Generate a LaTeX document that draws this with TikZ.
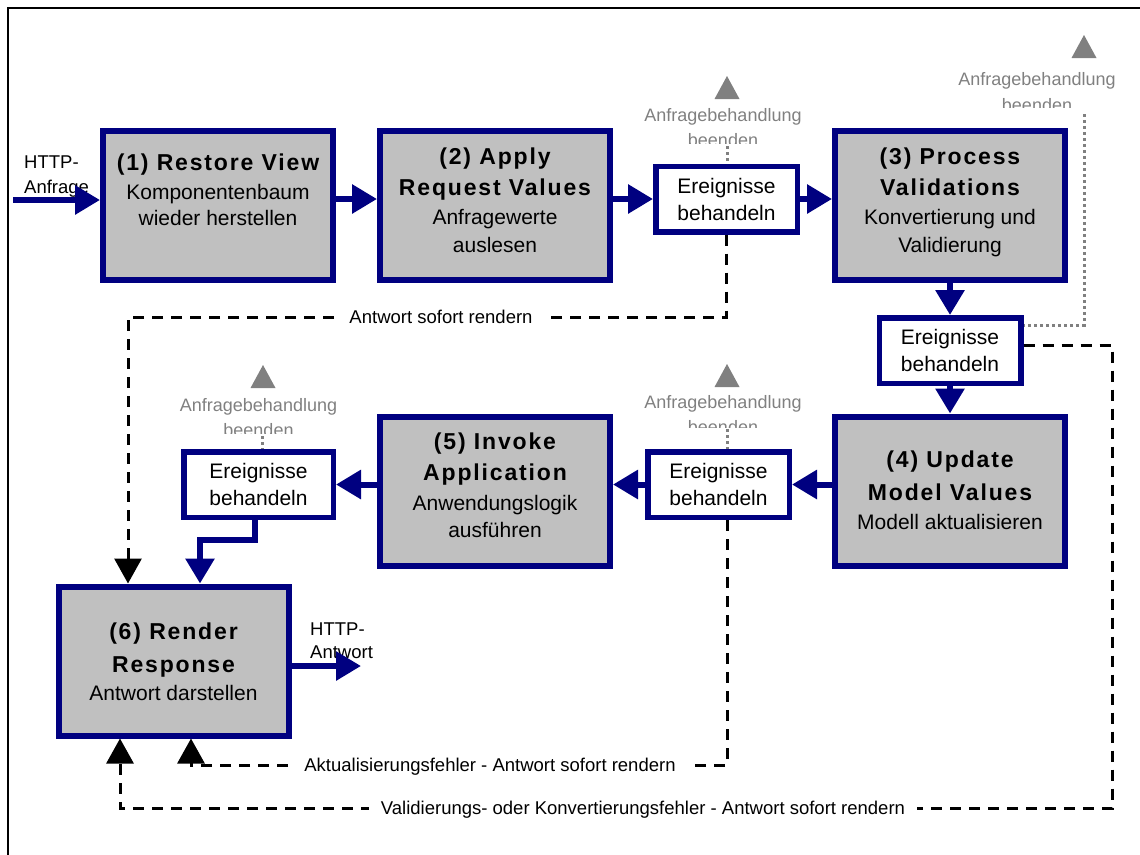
\documentclass[tikz,border=0pt]{standalone}
\usepackage{fontspec}
\setmainfont{Liberation Sans}
\newfontfamily\ttlfam[LetterSpace=8]{Liberation Sans}
\usetikzlibrary{arrows.meta,calc}
\definecolor{navy}{HTML}{000080}
\definecolor{phasegray}{HTML}{C0C0C0}
\definecolor{notegray}{HTML}{808080}
\newcommand\ttl[1]{{\ttlfam\bfseries\fontsize{23}{31}\selectfont #1}}

\tikzset{
  phase/.style={draw=navy, line width=6pt, fill=phasegray, minimum width=230pt,
    minimum height=149pt, inner sep=0pt},
  phasetext/.style={align=center, inner sep=0pt, font=\fontsize{21}{28}\selectfont},
  event/.style={draw=navy, line width=5.5pt, fill=white, minimum width=141.5pt,
    minimum height=65.5pt, inner sep=0pt, align=center,
    font=\fontsize{21}{27}\selectfont},
  flow/.style={navy, line width=6pt, -{Triangle[length=25pt,width=28pt]}},
  skip/.style={black, line width=3pt, dash pattern=on 11pt off 8pt,
    -{Triangle[length=25pt,width=27pt]}},
  skiplabel/.style={fill=white, inner xsep=12pt, inner ysep=2pt,
    font=\fontsize{18.5}{23}\selectfont},
  smalltext/.style={inner sep=0pt, align=left, font=\fontsize{18.5}{23}\selectfont},
  note/.style={notegray, line width=3pt, dash pattern=on 3pt off 3pt},
  notetext/.style={text=notegray, inner sep=0pt, anchor=base,
    font=\fontsize{18}{25}\selectfont},
  halt/.pic={\fill[notegray] (-12.5,0) -- (0,-23) -- (12.5,0) -- cycle;}
}

\begin{document}
\begin{tikzpicture}[x=1pt,y=-1pt]
\useasboundingbox (0,0) rectangle (1140,854);

% outer frame
\draw[line width=2pt] (8,870) -- (8,8) -- (1160,8);

% helper points for connector routes
\coordinate (inS) at (13,200);
\coordinate (outE) at (361,666);
\coordinate (bendA) at (255,540);
\coordinate (bendB) at (200,540);
\coordinate (rA) at (128,317);
\coordinate (rB) at (1112,345);
\coordinate (rC) at (120,808);
\coordinate (rD) at (727,765);
\coordinate (rE) at (191,765);
\coordinate (n1) at (727,146);
\coordinate (n2) at (1084,114);
\coordinate (tr) at (1084,325);
\coordinate (n3) at (727,429);
\coordinate (n4) at (262,436);

% request / response labels
\node[smalltext, anchor=west] (inL) at (24,177) {HTTP-\\[2pt]Anfrage};
\node[smalltext, anchor=west] (outL) at (310,641) {HTTP-\\Antwort};

% phases
\node[phase] (p1) at (218,205.5) {};
\node[phase] (p2) at (495,205.5) {};
\node[phase] (p3) at (950,205) {};
\node[phase] (p4) at (950,491) {};
\node[phase] (p5) at (495,491) {};
\node[phase] (p6) at (173.5,661) {};

\node[phasetext, yshift=15.5pt] (t1) at (p1)
  {\ttl{(1) Restore View}\\[1pt]Komponentenbaum\\[-2pt]wieder herstellen};
\node[phasetext, yshift=5pt] (t2) at (p2)
  {\ttl{(2) Apply}\\[3pt]\ttl{Request Values}\\[1pt]Anfragewerte\\auslesen};
\node[phasetext, yshift=2.5pt] (t3) at (p3)
  {\ttl{(3) Process}\\[3pt]\ttl{Validations}\\[1pt]Konvertierung und\\Validierung};
\node[phasetext, yshift=0.5pt] (t4) at (p4)
  {\ttl{(4) Update}\\[5pt]\ttl{Model Values}\\[1pt]Modell aktualisieren};
\node[phasetext, yshift=5.5pt] (t5) at (p5)
  {\ttl{(5) Invoke}\\[3pt]\ttl{Application}\\[2pt]Anwendungslogik\\[-1pt]ausführen};
\node[phasetext, yshift=-1pt] (t6) at (p6)
  {\ttl{(6) Render}\\[5pt]\ttl{Response}\\Antwort darstellen};

% event handling steps
\node[event] (e1) at (726.5,199) {Ereignisse\\behandeln};
\node[event] (e2) at (950,350.5) {Ereignisse\\behandeln};
\node[event] (e3) at (718.5,484.5) {Ereignisse\\behandeln};
\node[event, minimum width=149.5pt] (e4) at (258.5,484.5) {Ereignisse\\behandeln};

% regular flow
\draw[flow] (inS) -- (inS -| p1.west);
\draw[flow] (p1.east |- e1) -- (p2.west |- e1);
\draw[flow] (p2.east |- e1) -- (e1.west);
\draw[flow] (e1.east) -- (p3.west |- e1);
\draw[flow] (p3.south) -- (e2.north);
\draw[flow] (e2.south) -- (p4.north);
\draw[flow] (p4.west |- e3) -- (e3.east);
\draw[flow] (e3.west) -- (p5.east |- e3);
\draw[flow] (p5.west |- e4) -- (e4.east);
\draw[flow] (bendA |- e4.south) -- (bendA) -- (bendB) -- (bendB |- p6.north);
\draw[flow] (p6.east |- outE) -- (outE);

% shortcuts to rendering
\draw[skip] (e1.south) |- (rA) -- (rA |- p6.north);
\draw[skip] (e2.east |- rB) -- (rB) |- (rC) -- (rC |- p6.south);
\draw[skip] (rD |- e3.south) -- (rD) -- (rE) -- (rE |- p6.south);
\node[skiplabel] (l1) at (441,317) {Antwort sofort rendern};
\node[skiplabel] (l2) at (490,767) {Aktualisierungsfehler - Antwort sofort rendern};
\node[skiplabel] (l3) at (643,810)
  {Validierungs- oder Konvertierungsfehler - Antwort sofort rendern};

% request completion exits
\draw[note] (n1) -- (n1 |- e1.north);
\draw[note] (n2) -- (tr) -- (tr -| e2.east);
\draw[note] (n3) -- (n3 |- e3.north);
\draw[note] (n4) -- (n4 |- e4.north);

\pic at (727,99) {halt};
\pic at (1084,58) {halt};
\pic at (727,387) {halt};
\pic at (263,388) {halt};

\node[notetext] (q1) at (723,121.5) {Anfragebehandlung};
\node[notetext] (q2) at (1037,85.5) {Anfragebehandlung};
\node[notetext] (q3) at (723,408.5) {Anfragebehandlung};
\node[notetext] (q4) at (258.5,411.5) {Anfragebehandlung};
\begin{scope}
  \clip (663,125) rectangle (783,143);
  \node[notetext] (q1b) at (723,146.5) {beenden};
\end{scope}
\begin{scope}
  \clip (977,89) rectangle (1097,107);
  \node[notetext] (q2b) at (1037,111.5) {beenden};
\end{scope}
\begin{scope}
  \clip (663,412) rectangle (783,427);
  \node[notetext] (q3b) at (723,433.5) {beenden};
\end{scope}
\begin{scope}
  \clip (198,415) rectangle (318,433);
  \node[notetext] (q4b) at (258.5,436.5) {beenden};
\end{scope}
\end{tikzpicture}
\end{document}
